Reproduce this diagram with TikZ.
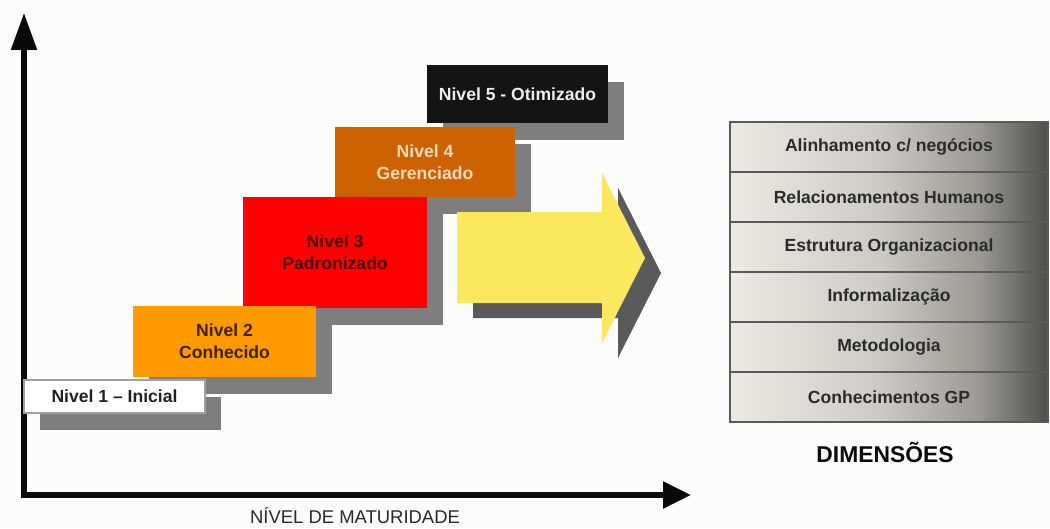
\documentclass[tikz,border=0pt]{standalone}
\usepackage{fontspec}
\setmainfont{Liberation Sans}
\usetikzlibrary{arrows.meta,shadows}

\definecolor{bgc}{HTML}{FCFCFA}
\definecolor{axisblack}{HTML}{0A0A0A}
\definecolor{boxshadow}{HTML}{7E7E7E}
\definecolor{arrowshadow}{HTML}{5A5A5A}
\definecolor{arrowyellow}{HTML}{FCE85E}
\definecolor{lvlone}{HTML}{FFFFFF}
\definecolor{lvloneedge}{HTML}{A0A0A0}
\definecolor{lvltwo}{HTML}{FF9A00}
\definecolor{lvlthree}{HTML}{FE0000}
\definecolor{lvlfour}{HTML}{CC6300}
\definecolor{lvlfive}{HTML}{141414}
\definecolor{lvlonetext}{HTML}{222222}
\definecolor{lvltwotext}{HTML}{3D2300}
\definecolor{lvlthreetext}{HTML}{4A0000}
\definecolor{lvlfourtext}{HTML}{F6D9BC}
\definecolor{lvlfivetext}{HTML}{EDEDED}
\definecolor{dimA}{HTML}{ECEAE2}
\definecolor{dimB}{HTML}{CCCAC2}
\definecolor{dimC}{HTML}{9A9891}
\definecolor{dimD}{HTML}{4E4E4A}
\definecolor{dimline}{HTML}{5A5A58}
\definecolor{dimtext}{HTML}{2A2A2A}
\definecolor{labeltext}{HTML}{2A2A2A}

\begin{document}
\begin{tikzpicture}[x=0.02cm,y=-0.02cm,
  levelbox/.style={rectangle, inner sep=0pt, align=center,
    font=\fontsize{10}{12.5}\selectfont\bfseries,
    drop shadow={shadow xshift=0.32cm, shadow yshift=-0.34cm,
                 fill=boxshadow, opacity=1}},
  dimbox/.style={rectangle, draw=dimline, line width=0.7pt,
    minimum width=6.36cm, minimum height=1cm, inner sep=0pt,
    font=\fontsize{10}{12}\selectfont\bfseries, text=dimtext},
  axis/.style={line width=3pt, draw=axisblack}]

\useasboundingbox (0,0) rectangle (1050,528);
\fill[bgc] (0,0) rectangle (1050,528);

% axes
\coordinate (ytop) at (24,13);
\coordinate (origin) at (24,495);
\coordinate (xend) at (691,495);
\draw[axis, {Triangle[length=0.74cm,width=0.5cm]}-{Triangle[length=0.56cm,width=0.52cm]}]
  (ytop) -- (origin) -- (xend);
\node[font=\fontsize{10.5}{12}\selectfont, text=labeltext] (xlabel) at (355,516) {NÍVEL DE MATURIDADE};

% maturity steps, highest first so each shadow lies behind the step below
\node[levelbox, fill=lvlfive, text=lvlfivetext, minimum width=3.62cm, minimum height=1.16cm]
  (n5) at (517.5,94) {Nivel 5 - Otimizado};
\node[levelbox, fill=lvlfour, text=lvlfourtext, minimum width=3.6cm, minimum height=1.4cm]
  (n4) at (425,162) {Nivel 4\\Gerenciado};
\node[levelbox, fill=lvlthree, text=lvlthreetext, minimum width=3.68cm, minimum height=2.22cm]
  (n3) at (335,252.5) {Nivel 3\\Padronizado};
\node[levelbox, fill=lvltwo, text=lvltwotext, minimum width=3.66cm, minimum height=1.42cm]
  (n2) at (224.5,341.5) {Nivel 2\\Conhecido};
\node[levelbox, fill=lvlone, draw=lvloneedge, line width=0.6pt, text=lvlonetext,
  minimum width=3.62cm, minimum height=0.66cm]
  (n1) at (114.5,396.5) {Nivel 1 – Inicial};

% big yellow arrow with its shadow
\fill[arrowshadow, shift={(16,15)}]
  (457,212) -- (602,212) -- (602,173) -- (645,258) -- (602,343) -- (602,303) -- (457,303) -- cycle;
\fill[arrowyellow]
  (457,212) -- (602,212) -- (602,173) -- (645,258) -- (602,343) -- (602,303) -- (457,303) -- cycle;

% dimension stack background
\shade[left color=dimA, right color=dimB] (730,122) rectangle (880.5,422);
\shade[left color=dimB, right color=dimC] (880,122) rectangle (980.5,422);
\shade[left color=dimC, right color=dimD] (980,122) rectangle (1048,422);

\node[dimbox] (d1) at (889,147) {Alinhamento c/ negócios};
\node[dimbox] (d2) at (889,197) {Relacionamentos Humanos};
\node[dimbox] (d3) at (889,247) {Estrutura Organizacional};
\node[dimbox] (d4) at (889,297) {Informalização};
\node[dimbox] (d5) at (889,347) {Metodologia};
\node[dimbox] (d6) at (889,397) {Conhecimentos GP};

\node[font=\fontsize{13}{15}\selectfont\bfseries, text=axisblack] (dimtitle) at (885,452) {DIMENSÕES};
\end{tikzpicture}
\end{document}
